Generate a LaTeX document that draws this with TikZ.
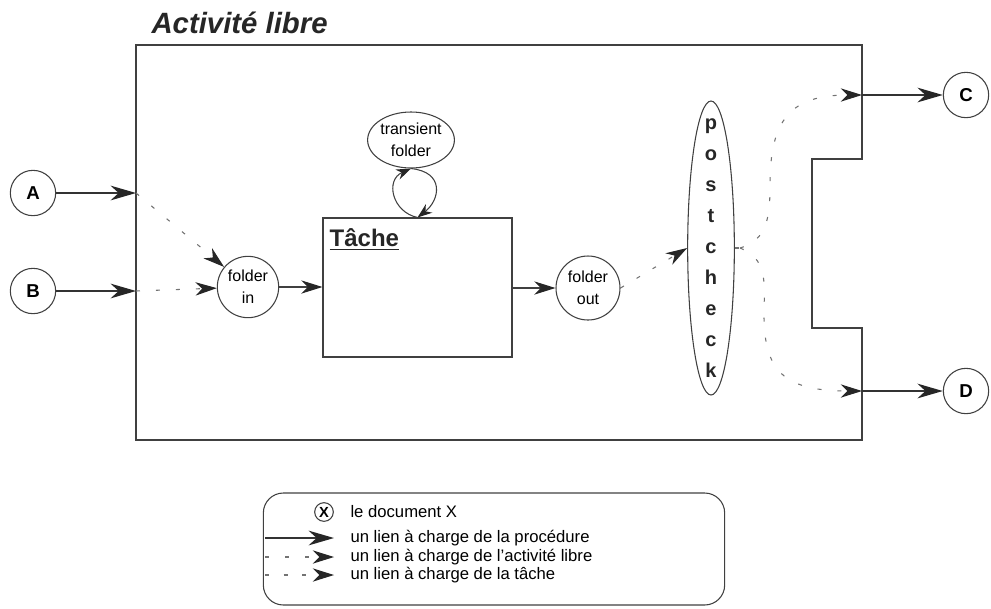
\documentclass[tikz,border=0pt]{standalone}
\usepackage{fontspec}
\setmainfont{Liberation Sans}
\usetikzlibrary{shapes.geometric, arrows.meta, positioning}

\begin{document}
\begin{tikzpicture}[
        x=0.75pt, y=-0.75pt,
        line width=0.8pt, draw=black!75,
        doc/.style={circle, draw, minimum size=34pt, inner sep=0pt, font=\fontsize{14}{16}\selectfont\bfseries},
        folder/.style={circle, draw, inner sep=0pt, align=center, font=\fontsize{12}{16.5}\selectfont},
        legtext/.style={anchor=west, inner sep=0pt, font=\fontsize{12.5}{14}\selectfont},
        proc/.style={-{Stealth[length=19pt, width=11pt, inset=6pt, color=black!85]}, line width=1.6pt, black!80},
        link/.style={-{Stealth[length=16pt, width=10pt, inset=5pt, color=black!85]}, line width=0.8pt, black!75},
        boucle/.style={-{Stealth[length=11pt, width=8pt, inset=3.5pt, color=black!85]}, line width=0.8pt, black!75},
        librelink/.style={-{Stealth[length=16pt, width=10pt, inset=5pt, color=black!85]}, dash pattern=on 3pt off 12pt, line width=0.8pt, black!55},
        tachelink/.style={-{Stealth[length=16pt, width=10pt, inset=5pt, color=black!85]}, dash pattern=on 3pt off 11pt, line width=0.8pt, black!55}
    ]
        \useasboundingbox (0,0) rectangle (991,608);

        % Le cadre de l'activité
        \node[anchor=base west, inner sep=0pt, font=\fontsize{22}{24}\selectfont\bfseries\itshape, text=black!85] (titre) at (151,33) {Activité libre};
        \draw (136,45) -- (862,45) -- (862,159) -- (812,159) -- (812,328) -- (862,328) -- (862,440) -- (136,440) -- cycle;
        \coordinate (ain) at (136,193);
        \coordinate (bin) at (136,291);
        \coordinate (cout) at (862,95);
        \coordinate (dout) at (862,391);
        \coordinate (split) at (740,248);

        % Les documents
        \node[doc] (A) at (33,193) {A};
        \node[doc] (B) at (33,291) {B};
        \node[doc] (C) at (966,95) {C};
        \node[doc] (D) at (966,391) {D};

        % Les blocs
        \node[folder, minimum size=46pt] (fin) at (248,287) {folder\\in};
        \node[draw, minimum width=141.75pt, minimum height=104.25pt] (tache) at (417.5,287.5) {};
        \node[anchor=base west, inner sep=0pt, font=\fontsize{18}{20}\selectfont\bfseries, text=black!85] (tachelbl) at ([xshift=5pt, yshift=-22pt]tache.north west) {\underline{Tâche}};
        \node[folder, minimum size=48pt] (fout) at (588,288) {folder\\out};
        \node[ellipse, draw, inner sep=0pt, minimum width=63pt, minimum height=42pt, align=center, font=\fontsize{12}{16.5}\selectfont] (transient) at (411,140) {transient\\folder};
        \node[ellipse, draw, minimum width=35pt, minimum height=220.5pt] (post) at (711,248) {};
        \node[align=center, inner sep=0pt, font=\fontsize{15}{23.25}\selectfont\bfseries, text=black!85] (postlbl) at (post) {p\\o\\s\\t\\c\\h\\e\\c\\k};

        % Les liens
        \draw [proc] (A) -- (ain);
        \draw [proc] (B) -- (bin);
        \draw [librelink] (ain) -- (fin);
        \draw [librelink] (bin) -- (fin);
        \draw [link] (fin) -- (tache.west |- fin);
        \draw [link] (tache.east |- fout) -- (fout);
        \draw [boucle] (tache.north) .. controls (392,212) and (385,180) .. (transient.south);
        \draw [boucle] (transient.south) .. controls (445,172) and (440,200) .. (tache.north);
        \draw [tachelink] (fout.east) -- (post.west);
        \draw [librelink, -] (post.east) -- (split);
        \draw [librelink] (split) .. controls (768,240) and (770,215) .. (770,185) .. controls (770,120) and (790,95) .. (cout);
        \draw [librelink] (split) .. controls (766,258) and (765,280) .. (764,310) .. controls (763,370) and (782,391) .. (dout);
        \draw [proc] (cout) -- (C);
        \draw [proc] (dout) -- (D);

        % La légende
        \node[draw, rounded corners=15pt, minimum width=346pt, minimum height=84pt] (legende) at (494,549) {};
        \node[circle, draw, minimum size=14pt, inner sep=0pt, font=\fontsize{11}{13}\selectfont\bfseries] (X) at (324,512) {X};
        \node[legtext] (ldoc) at (350,512) {le document X};
        \node[legtext] (lproc) at (350,538) {un lien à charge de la procédure};
        \node[legtext] (llibre) at (350,557) {un lien à charge de l'activité libre};
        \node[legtext] (ltache) at (350,575) {un lien à charge de la tâche};
        \coordinate (p1) at (265,538);
        \coordinate (p2) at (265,557);
        \coordinate (p3) at (265,575);
        \draw [proc] (p1) -- ([xshift=-12pt]lproc.west);
        \draw [librelink] (p2) -- ([xshift=-12pt]llibre.west);
        \draw [tachelink] (p3) -- ([xshift=-12pt]ltache.west);
    \end{tikzpicture}
\end{document}
